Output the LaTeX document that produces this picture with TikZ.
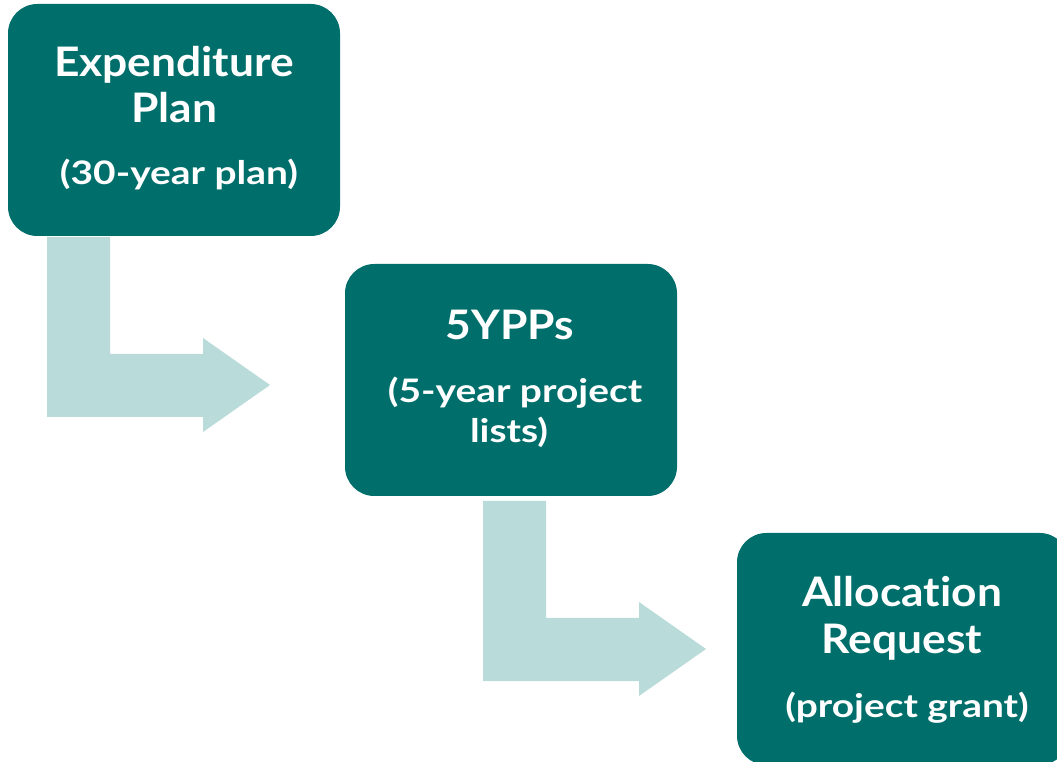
\documentclass[tikz,border=0pt]{standalone}
\usepackage{fontspec}
\setmainfont{Lato}
\newfontfamily\headfont{Lato Bold}[FakeStretch=1.09,Ligatures=NoCommon]
\newfontfamily\subfont{Lato Bold}[FakeStretch=1.2,Ligatures=NoCommon]
\definecolor{teal}{HTML}{006F6B}
\definecolor{paleteal}{HTML}{B9DBD9}
\begin{document}
\begin{tikzpicture}[x=0.75pt,y=-0.75pt,
  stagebox/.style={fill=teal,draw=none,rounded corners=22pt,inner sep=0pt,
    minimum width=249pt,minimum height=174pt},
  headline/.style={text=white,font=\headfont\fontsize{30.5}{34}\selectfont,inner sep=0pt,anchor=base},
  subline/.style={text=white,font=\subfont\fontsize{24.3}{29}\selectfont,inner sep=0pt,anchor=base},
  bentarrow/.style={fill=paleteal,draw=none}]
\useasboundingbox (0,0) rectangle (1057,762);
\clip (0,0) rectangle (1057,762);

% bent block arrows leading from one stage to the next
\fill[bentarrow] (47,237) -- (110,237) -- (110,354) -- (203,354) -- (203,338)
  -- (270,385) -- (203,432) -- (203,417) -- (47,417) -- cycle;
\fill[bentarrow] (483,501) -- (546,501) -- (546,618) -- (639,618) -- (639,602)
  -- (706,649) -- (639,696) -- (639,681) -- (483,681) -- cycle;

% stage boxes
\node[stagebox] (plan) at (174,120) {};
\node[stagebox] (ypp) at (511,380) {};
\node[stagebox] (alloc) at (903,649) {};

% stage labels
\node[headline] (planA) at (174,77) {Expenditure};
\node[headline] (planB) at (174,123) {Plan};
\node[subline] (planC) at (179,185) {(30-year plan)};

\node[headline] (yppA) at (510,340) {5YPPs};
\node[subline] (yppB) at (515,403) {(5-year project};
\node[subline] (yppC) at (509,443) {lists)};

\node[headline] (allocA) at (902,607) {Allocation};
\node[headline] (allocB) at (902,653) {Request};
\node[subline] (allocC) at (907,717) {(project grant)};
\end{tikzpicture}
\end{document}
